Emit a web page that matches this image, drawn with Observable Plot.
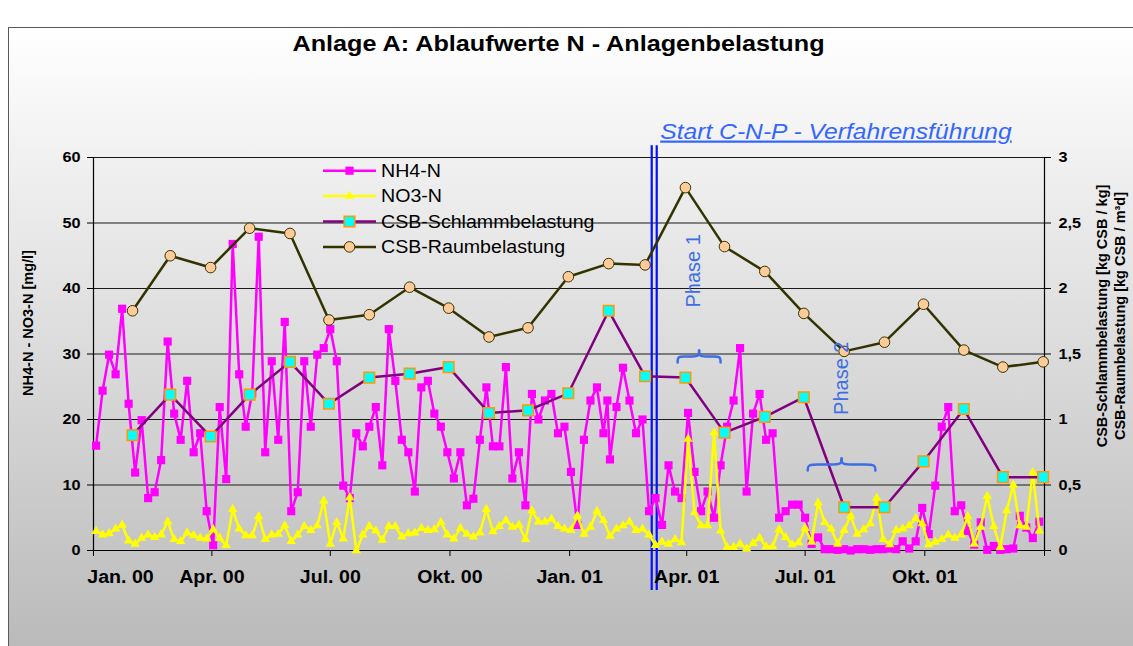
<!DOCTYPE html>
<html><head><meta charset="utf-8">
<script src="https://cdn.jsdelivr.net/npm/d3@7"></script>
<script src="https://cdn.jsdelivr.net/npm/@observablehq/plot@0.6"></script>
<style>
body{margin:0;background:#fff;font-family:"Liberation Sans",Arial,sans-serif;}
#wrap{position:relative;width:1133px;height:646px;overflow:hidden;background:#fff;}
#frame{position:absolute;left:8px;top:27px;width:1140px;height:640px;border-left:1.5px solid #5a5a5a;border-top:1.5px solid #5a5a5a;background:linear-gradient(#ffffff,#b8b8b8);}
#title{position:absolute;left:0;top:31px;width:1118px;text-align:center;font-weight:bold;font-size:22.5px;color:#000;white-space:nowrap;}
#title span{display:inline-block;transform:scaleX(1.12);}
#chart{position:absolute;left:0;top:80px;}
</style></head>
<body><div id="wrap"><div id="frame"></div><div id="title"><span>Anlage A: Ablaufwerte N - Anlagenbelastung</span></div><div id="chart"></div></div>
<script>
// Probenahmetage (Tage seit 1.1.2000)
const tage = [2,7,12,17,22,27,32,37,42,47,52,57,62,67,72,77,82,87,92,97,102,107,112,117,122,127,132,137,142,147,152,157,162,167,172,177,182,187,192,197,202,207,212,217,222,227,232,237,242,247,252,257,262,267,272,277,282,287,292,297,302,307,312,317,322,327,332,337,342,347,352,357,362,367,372,377,382,387,392,395,397,402,407,412,417,422,427,432,437,442,447,452,457,462,467,472,477,482,487,492,497,502,507,512,517,522,527,532,537,542,547,552,557,562,567,572,577,582,587,592,597,602,607,612,617,622,627,632,637,642,647,652,657,662,667,672,677,682,687,692,697,702,707,712,717,722,727];
const nh4 = [16,24.4,29.9,26.9,36.9,22.4,11.9,19.9,8,8.9,
13.8,31.9,20.9,16.9,25.9,15,17.9,6,0.8,21.9,
10.9,46.8,26.9,18.9,24,47.9,15,28.9,16.9,34.9,
6,8.9,28.9,18.9,29.9,30.9,33.8,28.9,9.9,8,
17.9,15.9,18.9,21.9,13,33.8,25.9,16.9,15,9,
24.9,25.9,20.9,18.9,15,11,15,6.9,7.9,16.9,
24.9,15.9,15.9,28,11,15,6.9,23.9,20,22.9,
23.9,17.9,18.9,12,3.9,16.9,22.9,24.9,17.9,22.9,
13.9,21.9,27.9,22.9,17.9,20,6,8,3.9,13,
9,8,21,12,6,9,5,13,18.9,22.9,
30.9,9,20.9,23.9,16.9,17.9,5,6,7,7,
5,1,2,0.2,0.2,0.1,0.2,0,0.2,0.2,
0.1,0.2,0.2,0.3,0.2,1.4,0.3,1.4,6.5,2.5,
9.9,18.9,21.9,6,6.9,3,0.9,4.3,0.1,0.7,
0.1,0.2,0.3,5.3,3.5,1.9,4.4];
const no3 = [2.95,2.4,2.6,3.3,3.9,1.5,1.0,1.9,2.4,2.0,
2.4,4.4,1.7,1.4,2.7,2.3,1.9,1.8,3.2,1.9,
0.8,6.3,3.3,2.3,2.3,5.2,1.7,2.4,2.5,3.8,
1.4,2.4,3.7,3.1,3.8,7.6,1.0,4.3,1.8,8.1,
0,2.4,3.7,3.0,1.6,3.7,3.7,2.1,2.6,2.7,
3.4,3.1,3.2,4.3,2.4,1.8,3.4,2.5,2.1,2.7,
6.3,2.9,3.7,4.6,3.6,3.9,1.7,6.1,4.4,4.4,
4.8,3.7,3.3,3.1,5.3,2.5,3.6,6.0,4.6,null,
2.2,3.3,3.8,4.4,3.1,3.3,2.4,0.8,1.3,1.0,
1.7,1.2,17,5.8,3.8,3.8,18,3.0,0.5,0.5,
1.0,0.25,1.1,1.9,0.6,0.6,3.2,2.0,0.9,1.2,
3.4,1.3,7.3,4.3,3.3,1.0,3.1,5.3,2.5,3.2,
4.1,8.0,1.7,0.9,3.1,3.3,3.8,4.9,4.1,0.9,
1.3,1.7,2.4,1.9,2.4,5.2,1.0,3.6,8.3,3.7,
0.5,6.1,10.0,3.8,3.6,11.9,3.0];
// Monatswerte (Monatsende)
const monate = ["2000-01","2000-02","2000-03","2000-04","2000-05","2000-06","2000-07","2000-08","2000-09","2000-10","2000-11","2000-12",
"2001-01","2001-02","2001-03","2001-04","2001-05","2001-06","2001-07","2001-08","2001-09","2001-10","2001-11","2001-12"];
const csbSchlamm = [0.88,1.19,0.87,1.19,1.44,1.12,1.32,1.35,1.40,1.05,1.07,1.20,1.83,1.33,1.32,0.90,1.02,1.17,0.33,0.33,0.68,1.08,0.56,0.56];
const csbRaum = [1.83,2.25,2.16,2.46,2.42,1.76,1.80,2.01,1.85,1.63,1.70,2.09,2.19,2.18,2.77,2.32,2.13,1.81,1.52,1.59,1.88,1.53,1.40,1.44];
// Achsen
const xTickMonate = ["2000-01","2000-04","2000-07","2000-10","2001-01","2001-04","2001-07","2001-10","2002-01"];
const xTickLabels = ["Jan. 00","Apr. 00","Jul. 00","Okt. 00","Jan. 01","Apr. 01","Jul. 01","Okt. 01",""];
const yTicksLinks = [0,10,20,30,40,50,60];
const yTickLabelsLinks = ["0","10","20","30","40","50","60"];
const yTickLabelsRechts = ["0","0,5","1","1,5","2","2,5","3"];
const rechtsMax = 3;
// Annotationen
const startCNPTag = 431;
const startText = "Start C-N-P - Verfahrensführung";
const phaseNamen = ["Phase 1","Phase 2"];
const phaseVon = [449,549];
const phaseBis = [482,601];
const seriesNamen = ["NH4-N","NO3-N","CSB-Schlammbelastung","CSB-Raumbelastung"];

// Layout / Stil
const phaseLayout = [{klammerY:28.7, textTag:461, textY:42.7},{klammerY:12.2, textTag:575, textY:26.3}];
const klammerH = 1.85;
const blau = "#3d6ee6";

const day0 = Date.UTC(2000,0,1);
const tag = d => new Date(day0 + d*864e5);
const monatsanfang = m => { const [y,mo] = m.split("-").map(Number); return new Date(Date.UTC(y, mo-1, 1)); };
const monatsende = m => { const [y,mo] = m.split("-").map(Number); return new Date(Date.UTC(y, mo, 0)); };
const f = 60 / rechtsMax;

const proben = tage.map((d,i)=>({datum: tag(d), nh4: nh4[i], no3: no3[i]}));
const monatsDaten = monate.map((m,i)=>({datum: monatsende(m), schlamm: csbSchlamm[i]*f, raum: csbRaum[i]*f}));
const xTickDaten = xTickMonate.map(monatsanfang);
const xLabelMap = new Map(xTickDaten.map((d,i)=>[+d, xTickLabels[i]]));

const klammerPunkte = [];
phaseNamen.forEach((n,i)=>{
  const von = phaseVon[i], bis = phaseBis[i], yb = phaseLayout[i].klammerY, h = klammerH;
  const w = (bis-von)/2, m = von + w;
  const L = [[von,yb],[von,yb+0.5*h],[von+0.3*w,yb+0.5*h],[m-0.3*w,yb+0.5*h],[m,yb+0.5*h],[m,yb+h]];
  const R = [[bis,yb],[bis,yb+0.5*h],[bis-0.3*w,yb+0.5*h],[m+0.3*w,yb+0.5*h],[m,yb+0.5*h],[m,yb+h]];
  L.forEach(p=>klammerPunkte.push({x:tag(p[0]), y:p[1], teil:n+"L"}));
  R.forEach(p=>klammerPunkte.push({x:tag(p[0]), y:p[1], teil:n+"R"}));
});
const phaseTexte = phaseNamen.map((n,i)=>({name:n, x:tag(phaseLayout[i].textTag), y:phaseLayout[i].textY}));

const xStart = tag(0), xEnd = new Date(Date.UTC(2002,0,1));

const plot = Plot.plot({
  width:1133, height:566, marginLeft:93, marginRight:89, marginTop:77, marginBottom:96,
  style:{background:"transparent", fontFamily:"Liberation Sans, Arial, sans-serif", color:"#000", overflow:"visible"},
  x:{type:"utc", domain:[xStart, xEnd]},
  y:{domain:[0,60]},
  marks:[
    Plot.ruleY(yTicksLinks.filter(v=>v>0), {stroke:"#1a1a1a", strokeWidth:1}),
    Plot.ruleY([0], {stroke:"#000", strokeWidth:1.2}),
    Plot.ruleX([xStart, xEnd], {stroke:"#000", strokeWidth:1.2}),
    Plot.ruleX([tag(startCNPTag)], {y1:-6.1, y2:61.8, dx:-2.5, stroke:"#0010ff", strokeWidth:2.2}),
    Plot.ruleX([tag(startCNPTag)], {y1:-6.1, y2:61.8, dx:2.5, stroke:"#0010ff", strokeWidth:2.2}),
    Plot.line(proben, {x:"datum", y:"nh4", stroke:"#ff00ff", strokeWidth:2.5}),
    Plot.dot(proben, {x:"datum", y:"nh4", symbol:"square", r:4.6, fill:"#ff00ff"}),
    Plot.line(proben, {filter:d=>d.no3!=null, x:"datum", y:"no3", stroke:"#ffff00", strokeWidth:2.5}),
    Plot.dot(proben, {filter:d=>d.no3!=null, x:"datum", y:"no3", symbol:"triangle", r:3.5, fill:"#ffff00"}),
    Plot.line(monatsDaten, {x:"datum", y:"schlamm", stroke:"#800080", strokeWidth:2.5}),
    Plot.dot(monatsDaten, {x:"datum", y:"schlamm", symbol:"square", r:6, fill:"#00ffff", stroke:"#ff9900", strokeWidth:1.5}),
    Plot.line(monatsDaten, {x:"datum", y:"raum", stroke:"#333300", strokeWidth:2.5}),
    Plot.dot(monatsDaten, {x:"datum", y:"raum", r:5.3, fill:"#ffcc99", stroke:"#333300", strokeWidth:1}),
    Plot.line(klammerPunkte, {x:"x", y:"y", z:"teil", curve:"basis", stroke:blau, strokeWidth:2.5}),
    Plot.text(phaseTexte, {x:"x", y:"y", text:"name", rotate:-90, fontSize:20, fill:blau}),
    Plot.text([startText], {x:tag(startCNPTag), y:60, text:d=>d, dx:6, dy:-26, textAnchor:"start", fontSize:22, fontStyle:"italic", fill:"#3366ff"}),
    Plot.axisY({anchor:"left", ticks:yTicksLinks, tickFormat:d=>yTickLabelsLinks[yTicksLinks.indexOf(d)], tickSize:6, tickPadding:7, fontSize:14.5, fontWeight:"bold", label:null}),
    Plot.axisY({anchor:"right", ticks:yTicksLinks, tickFormat:d=>yTickLabelsRechts[yTicksLinks.indexOf(d)], tickSize:6, tickPadding:8, fontSize:14.5, fontWeight:"bold", label:null}),
    Plot.axisX({ticks:xTickDaten, tickFormat:d=>xLabelMap.get(+d), tickSize:6, tickPadding:14, fontSize:17.5, fontWeight:"bold", label:null}),
    Plot.text(["NH4-N - NO3-N [mg/l]"], {text:d=>d, frameAnchor:"left", textAnchor:"middle", dx:-65, dy:-31, rotate:-90, fontSize:14.5, fontWeight:"bold"}),
    Plot.text(["CSB-Schlammbelastung [kg CSB / kg]"], {text:d=>d, frameAnchor:"right", textAnchor:"middle", dx:58, dy:-38, rotate:-90, fontSize:14.5, fontWeight:"bold"}),
    Plot.text(["CSB-Raumbelastung [kg CSB / m³d]"], {text:d=>d, frameAnchor:"right", textAnchor:"middle", dx:76, dy:-38, rotate:-90, fontSize:14.5, fontWeight:"bold"})
  ]
});
document.getElementById("chart").appendChild(plot);

// Legende
const svg = d3.select(plot);
const legStil = [
  {stroke:"#ff00ff", sym:d3.symbolSquare, size:Math.PI*4.6*4.6, fill:"#ff00ff", sStroke:"none", sw:0},
  {stroke:"#ffff00", sym:d3.symbolTriangle, size:Math.PI*3.5*3.5, fill:"#ffff00", sStroke:"none", sw:0},
  {stroke:"#800080", sym:d3.symbolSquare, size:Math.PI*36, fill:"#00ffff", sStroke:"#ff9900", sw:1.5},
  {stroke:"#333300", sym:d3.symbolCircle, size:Math.PI*5.3*5.3, fill:"#ffcc99", sStroke:"#333300", sw:1}
];
const legX1 = 323, legX2 = 376, legTx = 381, legY0 = 90.7, legDy = 25.4;
const lg = svg.append("g").attr("class","legende").attr("text-anchor","start");
seriesNamen.forEach((n,i)=>{
  const s = legStil[i], y = legY0 + i*legDy;
  lg.append("line").attr("x1",legX1).attr("x2",legX2).attr("y1",y).attr("y2",y).attr("stroke",s.stroke).attr("stroke-width",2.5);
  lg.append("path").attr("d", d3.symbol(s.sym, s.size)()).attr("transform",`translate(${(legX1+legX2)/2},${y})`)
    .attr("fill",s.fill).attr("stroke",s.sStroke).attr("stroke-width",s.sw);
  lg.append("text").attr("x",legTx).attr("y",y).attr("dy","0.35em").attr("text-anchor","start").attr("font-size",17.5).attr("fill","#000").text(n);
});

// horizontale Texte leicht gestreckt (wie im Original)
plot.querySelectorAll("text").forEach(t=>{
  const tr = (t.getAttribute("transform")||"") + (t.parentNode.getAttribute("transform")||"");
  if (tr.includes("rotate")) return;
  const L = t.getComputedTextLength();
  if (L>0){ t.setAttribute("textLength", L*1.12); t.setAttribute("lengthAdjust","spacingAndGlyphs"); }
  if (t.textContent === startText) t.style.textDecoration = "underline";
  if (t.textContent === xTickLabels[0]) t.setAttribute("dx", 27);
});
</script>
</body></html>
